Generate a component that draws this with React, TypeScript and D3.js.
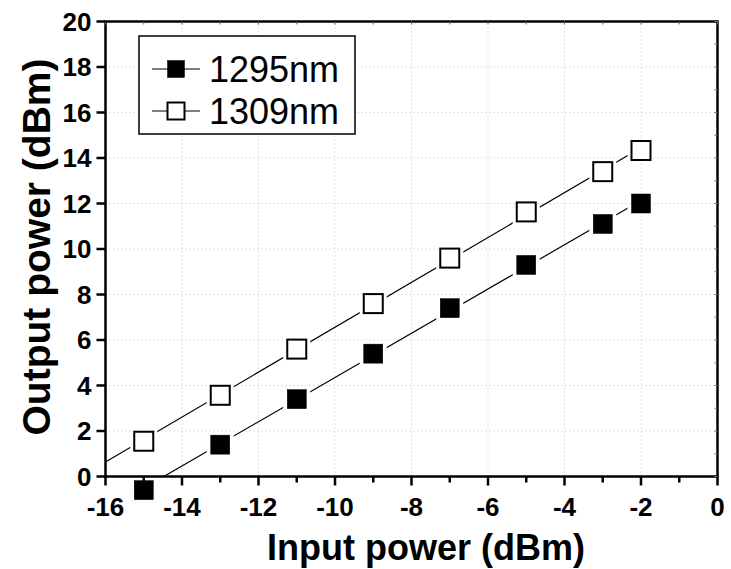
import React, { useEffect, useRef } from "react";
import * as d3 from "d3";

// data
const inputPower = [-15, -13, -11, -9, -7, -5, -3, -2];
const out1295 = [-0.6, 1.4, 3.4, 5.4, 7.4, 9.3, 11.1, 12.0];
const out1309 = [1.55, 3.57, 5.6, 7.6, 9.6, 11.63, 13.4, 14.33];
const seriesNames = ["1295nm", "1309nm"];
const xTicks = [-16, -14, -12, -10, -8, -6, -4, -2, 0];
const xMinorTicks = [-15, -13, -11, -9, -7, -5, -3, -1];
const yTicks = [0, 2, 4, 6, 8, 10, 12, 14, 16, 18, 20];
const yMinorTicks = [1, 3, 5, 7, 9, 11, 13, 15, 17, 19];

const width = 731;
const height = 569;
const font = "'Liberation Sans', Arial, sans-serif";

const fit = (xs: number[], ys: number[]) => {
  const mx = d3.mean(xs)!;
  const my = d3.mean(ys)!;
  const sxy = d3.sum(xs, (x, i) => (x - mx) * (ys[i] - my));
  const sxx = d3.sum(xs, (x) => (x - mx) * (x - mx));
  const b = sxy / sxx;
  return (x: number) => my + b * (x - mx);
};

const App: React.FC = () => {
  const svgRef = useRef<SVGSVGElement | null>(null);

  useEffect(() => {
    const svg = d3.select(svgRef.current);
    svg.selectAll("*").remove();

    const x = d3.scaleLinear().domain([-16, 0]).range([105.5, 717.5]);
    const y = d3.scaleLinear().domain([0, 20]).range([476.5, 21.5]);
    const [x0, x1] = x.range();
    const [y0, y1] = y.range();
    const msize = 19;

    const defs = svg.append("defs");
    defs
      .append("clipPath")
      .attr("id", "plotClip")
      .append("rect")
      .attr("x", x0)
      .attr("y", y1)
      .attr("width", x1 - x0)
      .attr("height", y0 - y1);

    // mask that cuts the fit lines around the markers
    const mask = defs.append("mask").attr("id", "markerGap");
    mask.append("rect").attr("width", width).attr("height", height).attr("fill", "white");
    [out1295, out1309].forEach((vals) => {
      mask
        .selectAll(null)
        .data(vals)
        .enter()
        .append("rect")
        .attr("x", (d, i) => x(inputPower[i]) - msize / 2 - 4)
        .attr("y", (d) => y(d) - msize / 2 - 4)
        .attr("width", msize + 8)
        .attr("height", msize + 8)
        .attr("fill", "black");
    });

    // grid (light dotted)
    const grid = svg.append("g").attr("stroke", "#c4c4c4").attr("stroke-width", 1).attr("stroke-dasharray", "1,3");
    grid
      .selectAll(".gx")
      .data(xTicks.slice(1, -1))
      .enter()
      .append("line")
      .attr("x1", (d) => x(d))
      .attr("x2", (d) => x(d))
      .attr("y1", y0)
      .attr("y2", y1);
    grid
      .selectAll(".gy")
      .data(yTicks.slice(1, -1))
      .enter()
      .append("line")
      .attr("x1", x0)
      .attr("x2", x1)
      .attr("y1", (d) => y(d))
      .attr("y2", (d) => y(d));

    // fit lines
    const lines = svg.append("g").attr("clip-path", "url(#plotClip)").append("g").attr("mask", "url(#markerGap)");
    [out1295, out1309].forEach((vals) => {
      const f = fit(inputPower, vals);
      lines
        .append("line")
        .attr("x1", x(-16))
        .attr("y1", y(f(-16)))
        .attr("x2", x(-2))
        .attr("y2", y(f(-2)))
        .attr("stroke", "#000")
        .attr("stroke-width", 1.2);
    });

    // frame + ticks
    const axes = svg.append("g").attr("stroke", "#000");
    axes
      .append("rect")
      .attr("x", x0)
      .attr("y", y1)
      .attr("width", x1 - x0)
      .attr("height", y0 - y1)
      .attr("fill", "none")
      .attr("stroke-width", 2.5);
    axes
      .selectAll(".xt")
      .data(xTicks)
      .enter()
      .append("line")
      .attr("x1", (d) => x(d))
      .attr("x2", (d) => x(d))
      .attr("y1", y0)
      .attr("y2", y0 + 9)
      .attr("stroke-width", 2.5);
    axes
      .selectAll(".xm")
      .data(xMinorTicks)
      .enter()
      .append("line")
      .attr("x1", (d) => x(d))
      .attr("x2", (d) => x(d))
      .attr("y1", y0)
      .attr("y2", y0 + 6)
      .attr("stroke-width", 2.5);
    axes
      .selectAll(".xtop")
      .data(xMinorTicks.concat(xTicks))
      .enter()
      .append("line")
      .attr("x1", (d) => x(d))
      .attr("x2", (d) => x(d))
      .attr("y1", y1)
      .attr("y2", y1 + 3)
      .attr("stroke-width", 1)
      .attr("stroke", "#666");
    axes
      .selectAll(".yt")
      .data(yTicks)
      .enter()
      .append("line")
      .attr("x1", x0 - 9)
      .attr("x2", x0)
      .attr("y1", (d) => y(d))
      .attr("y2", (d) => y(d))
      .attr("stroke-width", 2.5);
    axes
      .selectAll(".yr")
      .data(yMinorTicks.concat(yTicks))
      .enter()
      .append("line")
      .attr("x1", x1 - 3)
      .attr("x2", x1)
      .attr("y1", (d) => y(d))
      .attr("y2", (d) => y(d))
      .attr("stroke-width", 1)
      .attr("stroke", "#666");

    // tick labels
    svg
      .append("g")
      .selectAll("text")
      .data(xTicks)
      .enter()
      .append("text")
      .attr("x", (d) => x(d))
      .attr("y", y0 + 39)
      .attr("text-anchor", "middle")
      .style("font-family", font)
      .style("font-weight", "bold")
      .style("font-size", "26px")
      .text((d) => String(d));
    svg
      .append("g")
      .selectAll("text")
      .data(yTicks)
      .enter()
      .append("text")
      .attr("x", x0 - 14)
      .attr("y", (d) => y(d) + 9)
      .attr("text-anchor", "end")
      .style("font-family", font)
      .style("font-weight", "bold")
      .style("font-size", "26px")
      .text((d) => String(d));

    // axis titles
    svg
      .append("text")
      .attr("x", 426)
      .attr("y", 560)
      .attr("text-anchor", "middle")
      .style("font-family", font)
      .style("font-weight", "bold")
      .style("font-size", "36px")
      .text("Input power (dBm)");
    svg
      .append("text")
      .attr("transform", "translate(50,247) rotate(-90)")
      .attr("text-anchor", "middle")
      .style("font-family", font)
      .style("font-weight", "bold")
      .style("font-size", "39px")
      .text("Output power (dBm)");

    // markers
    const fills = ["#000", "#fff"];
    [out1295, out1309].forEach((vals, s) => {
      svg
        .append("g")
        .selectAll("rect")
        .data(vals)
        .enter()
        .append("rect")
        .attr("x", (d, i) => x(inputPower[i]) - msize / 2)
        .attr("y", (d) => y(d) - msize / 2)
        .attr("width", msize)
        .attr("height", msize)
        .attr("fill", fills[s])
        .attr("stroke", "#000")
        .attr("stroke-width", s === 0 ? 0.5 : 2);
    });

    // legend
    const lg = svg.append("g");
    lg.append("rect")
      .attr("x", 139)
      .attr("y", 36)
      .attr("width", 216)
      .attr("height", 98)
      .attr("fill", "#fff")
      .attr("stroke", "#000")
      .attr("stroke-width", 1.5);
    seriesNames.forEach((name, s) => {
      const cy = 69 + s * 42;
      lg.append("line")
        .attr("x1", 152)
        .attr("x2", 200)
        .attr("y1", cy)
        .attr("y2", cy)
        .attr("stroke", "#000")
        .attr("stroke-width", 1.2);
      lg.append("rect")
        .attr("x", 176 - 8.5)
        .attr("y", cy - 8.5)
        .attr("width", 17)
        .attr("height", 17)
        .attr("fill", fills[s])
        .attr("stroke", "#000")
        .attr("stroke-width", s === 0 ? 0.5 : 2);
      lg.append("text")
        .attr("x", 209)
        .attr("y", cy + 13)
        .style("font-family", font)
        .style("font-size", "36px")
        .text(name);
    });
  }, []);

  return (
    <svg
      ref={svgRef}
      width={width}
      height={height}
      style={{ position: "absolute", left: 0, top: 0, background: "#fff" }}
    ></svg>
  );
};

export default App;
